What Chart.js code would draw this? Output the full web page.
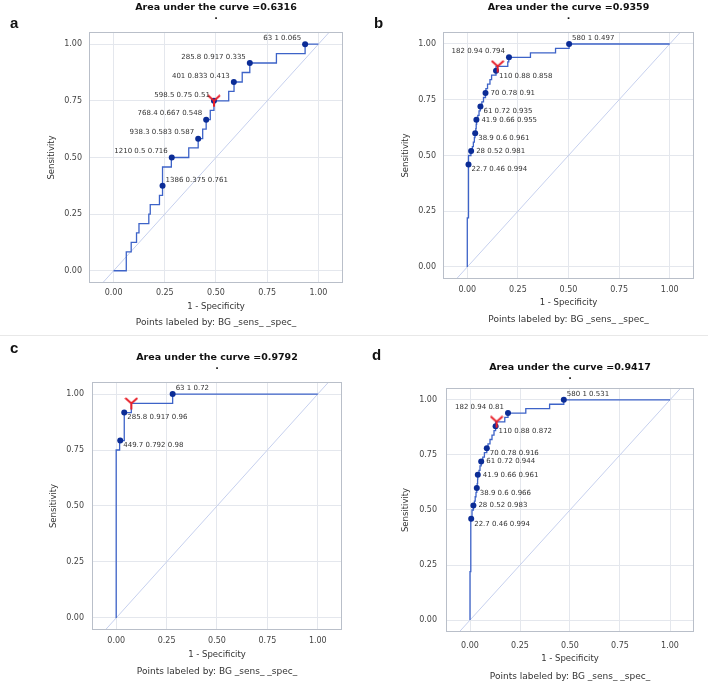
<!DOCTYPE html>
<html>
<head>
<meta charset="utf-8">
<script src="https://cdn.jsdelivr.net/npm/chart.js@4.4.1/dist/chart.umd.min.js"></script>
<style>
  body { margin: 0; background: #fff; }
  #wrap { position: relative; width: 708px; height: 683px; overflow: hidden; background: #fff; }
  .panel { position: absolute; }
  .tag { position: absolute; font: bold 15px "Liberation Sans", Arial, sans-serif; line-height: 15px; color: #111; }
  .sep { position: absolute; left: 0; top: 335px; width: 708px; height: 1px; background: #e8e8e8; }
</style>
</head>
<body>
<div id="wrap">
  <div class="panel" style="left:0;top:0;width:354px;height:330px"><canvas id="cA"></canvas></div>
  <div class="panel" style="left:354px;top:0;width:354px;height:330px"><canvas id="cB"></canvas></div>
  <div class="panel" style="left:0;top:350px;width:354px;height:333px"><canvas id="cC"></canvas></div>
  <div class="panel" style="left:354px;top:360px;width:354px;height:323px"><canvas id="cD"></canvas></div>
  <div class="sep"></div>
  <div class="tag" style="left:10px;top:15px">a</div>
  <div class="tag" style="left:374px;top:15px">b</div>
  <div class="tag" style="left:10px;top:340px">c</div>
  <div class="tag" style="left:372px;top:347px">d</div>
</div>
<script>
// axis ranges and ticks
const xLo = -0.12, xHi = 1.12, yLo = -0.054, yHi = 1.054;
const tickValues = [0, 0.25, 0.5, 0.75, 1];

// panel a
const aucA = "0.6316";
const aFpr = [0, 0.062, 0.086, 0.112, 0.124, 0.172, 0.179, 0.224, 0.239, 0.282, 0.367, 0.413, 0.435, 0.452, 0.472, 0.49, 0.562, 0.588, 0.628, 0.665, 0.795, 0.935, 1];
const aTpr = [0, 0.083, 0.125, 0.167, 0.208, 0.25, 0.292, 0.333, 0.458, 0.5, 0.542, 0.583, 0.625, 0.667, 0.708, 0.75, 0.792, 0.833, 0.875, 0.917, 0.958, 1, 1];
const aCut = [63, 285.8, 401, 598.5, 768.4, 938.3, 1210, 1386];
const aSens = [1, 0.917, 0.833, 0.75, 0.667, 0.583, 0.5, 0.375];
const aSpec = [0.065, 0.335, 0.413, 0.51, 0.548, 0.587, 0.716, 0.761];
const aBest = [0.49, 0.75];

// panel b
const aucB = "0.9359";
const bFpr = [0, 0, 0.006, 0.006, 0.018, 0.025, 0.03, 0.035, 0.038, 0.042, 0.044, 0.046, 0.052, 0.058, 0.064, 0.072, 0.08, 0.09, 0.092, 0.1, 0.112, 0.12, 0.142, 0.142, 0.2, 0.205, 0.312, 0.436, 0.503, 1];
const bTpr = [0, 0.22, 0.46, 0.5, 0.52, 0.54, 0.56, 0.58, 0.6, 0.62, 0.64, 0.66, 0.68, 0.7, 0.72, 0.74, 0.76, 0.78, 0.8, 0.82, 0.84, 0.86, 0.88, 0.9, 0.92, 0.94, 0.96, 0.98, 1, 1];
const bCut = [580, 182, 110, 70, 61, 41.9, 38.9, 28, 22.7];
const bSens = [1, 0.94, 0.88, 0.78, 0.72, 0.66, 0.6, 0.52, 0.46];
const bSpec = [0.497, 0.794, 0.858, 0.91, 0.935, 0.955, 0.961, 0.981, 0.994];
const bBest = [0.15, 0.9];

// panel c
const aucC = "0.9792";
const cFpr = [0, 0, 0.017, 0.04, 0.075, 0.28, 1];
const cTpr = [0, 0.75, 0.792, 0.917, 0.958, 1, 1];
const cCut = [63, 285.8, 449.7];
const cSens = [1, 0.917, 0.792];
const cSpec = [0.72, 0.96, 0.98];
const cBest = [0.075, 0.958];

// panel d
const aucD = "0.9417";
const dFpr = [0, 0, 0.004, 0.01, 0.017, 0.022, 0.026, 0.03, 0.034, 0.036, 0.038, 0.039, 0.045, 0.05, 0.056, 0.064, 0.072, 0.084, 0.09, 0.1, 0.11, 0.12, 0.128, 0.128, 0.174, 0.19, 0.279, 0.398, 0.469, 1];
const dTpr = [0, 0.22, 0.46, 0.5, 0.52, 0.54, 0.56, 0.58, 0.6, 0.62, 0.64, 0.66, 0.68, 0.7, 0.72, 0.74, 0.76, 0.78, 0.8, 0.82, 0.84, 0.86, 0.88, 0.9, 0.92, 0.94, 0.96, 0.98, 1, 1];
const dCut = [580, 182, 110, 70, 61, 41.9, 38.9, 28, 22.7];
const dSens = [1, 0.94, 0.88, 0.78, 0.72, 0.66, 0.6, 0.52, 0.46];
const dSpec = [0.531, 0.81, 0.872, 0.916, 0.944, 0.961, 0.966, 0.983, 0.994];
const dBest = [0.133, 0.9];

// where each point label sits: ul = up-left, ur = up-right, r = right, lr = low-right
const aAnchor = ["ul", "ul", "ul", "ul", "ul", "ul", "ul", "ur"];
const bAnchor = ["ur", "ul", "lr", "r", "lr", "r", "lr", "r", "lr"];
const cAnchor = ["ur", "lr", "lr"];
const dAnchor = ["ur", "ul", "lr", "lr", "r", "r", "lr", "r", "lr"];

Chart.defaults.font.family = '"DejaVu Sans", Verdana, sans-serif';
Chart.defaults.color = "#333";
Chart.defaults.animation = false;

// red Y marker for the chosen cutoff
function makeY() {
  const c = document.createElement("canvas");
  c.width = 14; c.height = 13;
  const g = c.getContext("2d");
  g.strokeStyle = "#e8212b";
  g.lineWidth = 2;
  g.beginPath();
  g.moveTo(1, 1); g.lineTo(7, 6.5); g.lineTo(13, 1);
  g.moveTo(7, 6.5); g.lineTo(7, 12.5);
  g.stroke();
  return c;
}
const yMark = makeY();

const framePlugin = {
  id: "frame",
  afterDraw(chart) {
    const a = chart.chartArea, ctx = chart.ctx;
    ctx.save();
    ctx.strokeStyle = "#b9bfc9";
    ctx.lineWidth = 1;
    ctx.strokeRect(Math.round(a.left) + 0.5, Math.round(a.top) + 0.5, Math.round(a.right - a.left) - 1, Math.round(a.bottom - a.top) - 1);
    ctx.restore();
  }
};

const labelPlugin = {
  id: "cutLabels",
  afterDatasetsDraw(chart, args, opts) {
    const idx = chart.data.datasets.findIndex(d => d.label === "cut");
    const meta = chart.getDatasetMeta(idx);
    const ctx = chart.ctx;
    ctx.save();
    ctx.font = '7px "DejaVu Sans", sans-serif';
    ctx.fillStyle = "#333";
    ctx.textBaseline = "middle";
    meta.data.forEach((el, i) => {
      const an = opts.anchors[i];
      let x = el.x, y = el.y;
      if (an === "ul") { ctx.textAlign = "right"; x -= 4; y -= 6; }
      else if (an === "ur") { ctx.textAlign = "left"; x += 3; y -= 6; }
      else if (an === "r") { ctx.textAlign = "left"; x += 5; }
      else { ctx.textAlign = "left"; x += 3; y += 5; }
      ctx.fillText(opts.texts[i], x, y);
    });
    ctx.restore();
  }
};

function rocChart(id, g, auc, fpr, tpr, cut, sens, spec, best, anchors) {
  const stepPts = fpr.map((v, i) => ({ x: v, y: tpr[i] }));
  const cutPts = spec.map((s, i) => ({ x: 1 - s, y: sens[i] }));
  const texts = cut.map((c, i) => c + " " + sens[i] + " " + spec[i]);
  const subBoxTop = g.subC - 7.4;
  new Chart(document.getElementById(id), {
    type: "scatter",
    data: {
      datasets: [
        { label: "best", data: [{ x: best[0], y: best[1] }], pointStyle: yMark, pointRadius: 6, order: 0 },
        { label: "cut", data: cutPts, pointRadius: 3, pointBackgroundColor: "#0b2c96", pointBorderWidth: 0, order: 1 },
        { label: "roc", data: stepPts, showLine: true, stepped: "before", borderColor: "#3d63c8", borderWidth: 1.3, pointRadius: 0, order: 2 },
        { label: "diag", data: [{ x: yLo, y: yLo }, { x: yHi, y: yHi }], showLine: true, borderColor: "#c6d0ee", borderWidth: 1, pointRadius: 0, order: 3 }
      ]
    },
    options: {
      responsive: true,
      maintainAspectRatio: false,
      layout: { padding: { left: 0, right: g.R, top: 0, bottom: 0 } },
      plugins: {
        legend: { display: false },
        tooltip: { enabled: false },
        title: {
          display: true, fullSize: false,
          text: ["Area under the curve =" + auc, "·"],
          font: { size: 9.5, weight: "bold", lineHeight: 1.15 },
          color: "#111",
          padding: { top: 2.5, bottom: g.T - 2.5 - 21.9 }
        },
        subtitle: {
          display: true, position: "bottom", fullSize: false,
          text: "Points labeled by: BG _sens_ _spec_",
          font: { size: 9, lineHeight: 1.2 },
          color: "#333",
          padding: { top: 2, bottom: g.H - g.subC - 5.4 }
        },
        cutLabels: { texts: texts, anchors: anchors }
      },
      scales: {
        x: {
          type: "linear", min: xLo, max: xHi,
          afterBuildTicks: s => { s.ticks = tickValues.map(v => ({ value: v })); },
          afterFit: s => { s.height = subBoxTop - g.B; },
          ticks: { font: { size: 8 }, color: "#444", padding: g.tickC - g.B - 5, callback: v => v.toFixed(2) },
          grid: { color: "#e4e7ed", drawTicks: false },
          border: { display: false },
          title: { display: true, text: "1 - Specificity", font: { size: 8.5, lineHeight: 1.2 }, color: "#333", padding: { top: 0, bottom: subBoxTop - g.xtC - 5.1 } }
        },
        y: {
          type: "linear", min: yLo, max: yHi,
          afterBuildTicks: s => { s.ticks = tickValues.map(v => ({ value: v })); },
          afterFit: s => { s.width = g.L; },
          ticks: { font: { size: 8 }, color: "#444", padding: g.gap, callback: v => v.toFixed(2) },
          grid: { color: "#e4e7ed", drawTicks: false },
          border: { display: false },
          title: { display: true, text: "Sensitivity", font: { size: 8.5, lineHeight: 1.2 }, color: "#333", padding: { top: g.ytC - 5.1, bottom: 0 } }
        }
      }
    },
    plugins: [framePlugin, labelPlugin]
  });
}

rocChart("cA", { H: 330, L: 89, R: 11, T: 32, B: 283, tickC: 293, xtC: 307, subC: 323, ytC: 52, gap: 7 }, aucA, aFpr, aTpr, aCut, aSens, aSpec, aBest, aAnchor);
rocChart("cB", { H: 330, L: 89, R: 14, T: 32, B: 279, tickC: 290, xtC: 303, subC: 320, ytC: 52, gap: 7 }, aucB, bFpr, bTpr, bCut, bSens, bSpec, bBest, bAnchor);
rocChart("cC", { H: 333, L: 92, R: 12, T: 32, B: 280, tickC: 291, xtC: 305, subC: 322, ytC: 54, gap: 8 }, aucC, cFpr, cTpr, cCut, cSens, cSpec, cBest, cAnchor);
rocChart("cD", { H: 323, L: 92, R: 14, T: 28, B: 272, tickC: 286, xtC: 299, subC: 317, ytC: 52, gap: 9 }, aucD, dFpr, dTpr, dCut, dSens, dSpec, dBest, dAnchor);
</script>
</body>
</html>
